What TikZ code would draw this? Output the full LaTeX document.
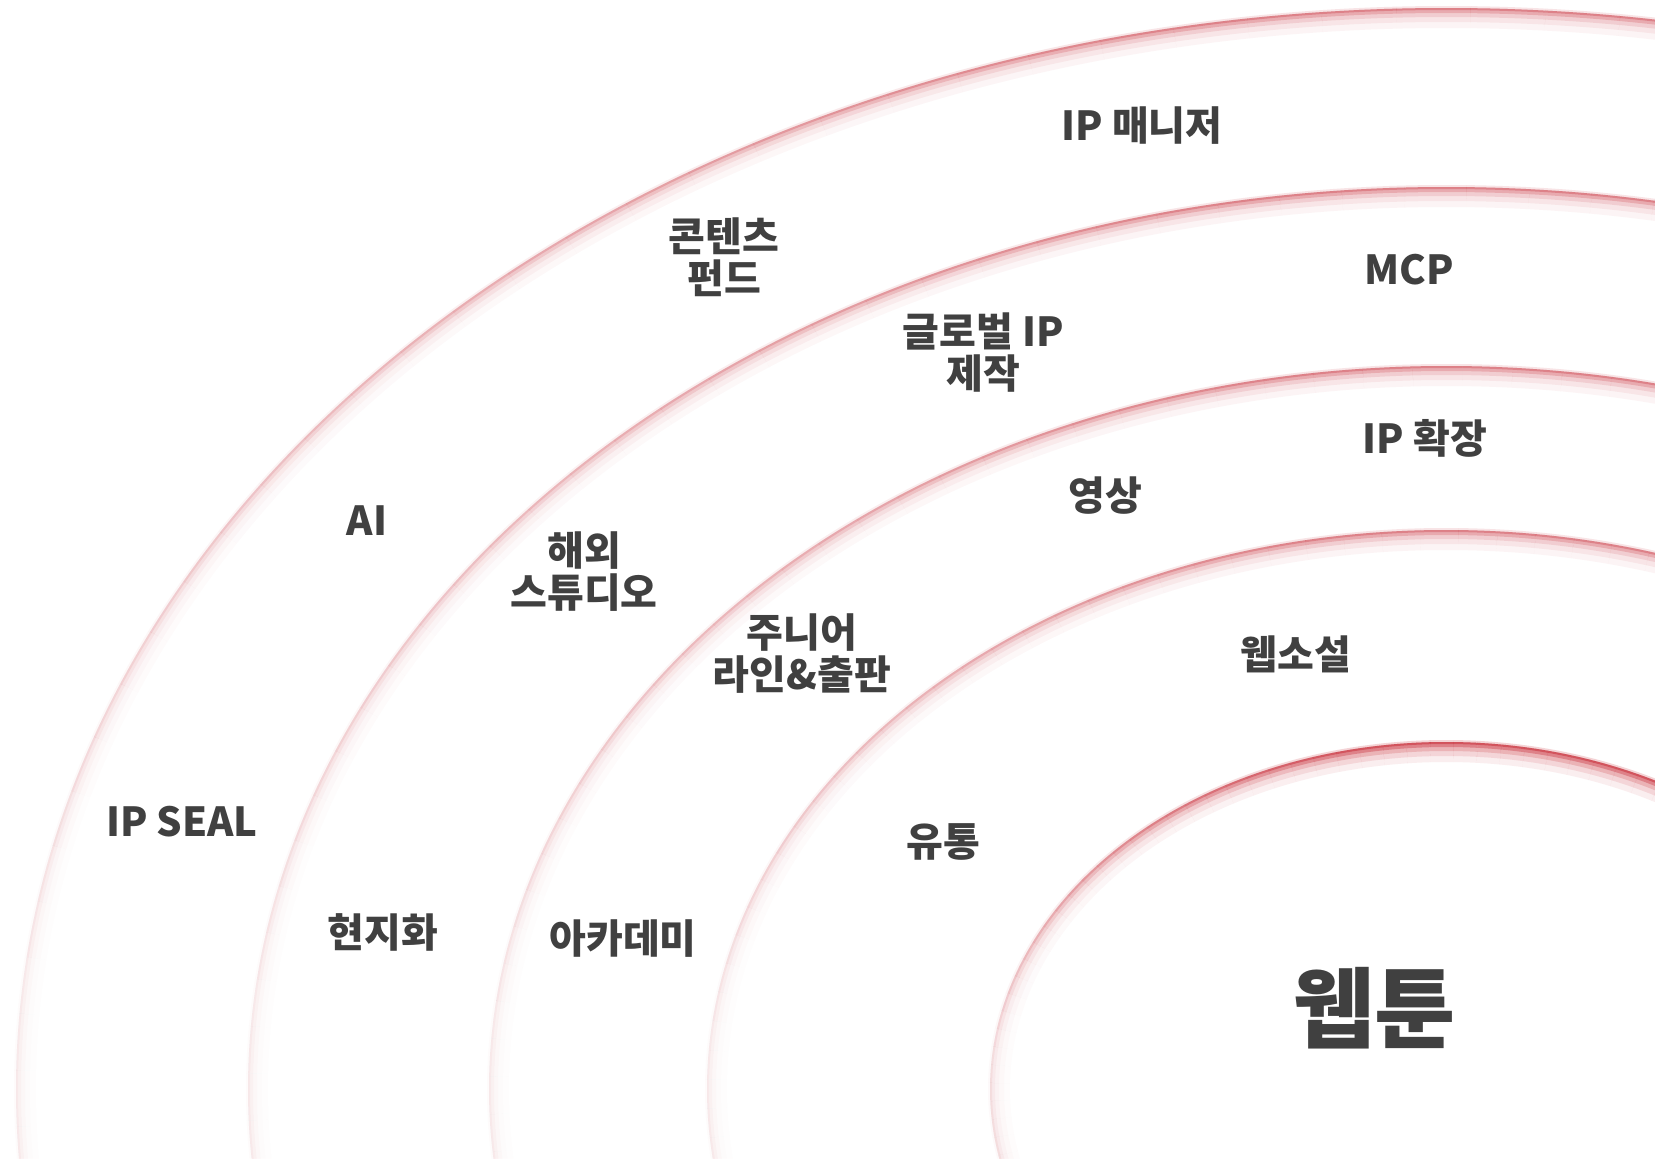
\documentclass[tikz,border=0pt]{standalone}
\usepackage{fontspec}
\setmainfont{Noto Sans CJK KR}
\usepackage{tikz}
\usepackage{xcolor}
\usetikzlibrary{positioning}
\definecolor{ringred}{RGB}{200,40,52}
\definecolor{txtgray}{RGB}{64,64,64}

\begin{document}
\begin{tikzpicture}[x=0.5pt,y=0.5pt,
    lbl/.style={text=txtgray,font=\fontsize{20}{21}\selectfont\bfseries,align=center,inner sep=0pt},
    big/.style={text=txtgray,font=\fontsize{44}{46}\selectfont\bfseries,inner sep=0pt}]
    \useasboundingbox (0,0) rectangle (1655,1158);
    \fill[white] (0,0) rectangle (1655,1158);
    \coordinate (c) at (1446,69);

    % glowing rings, fading toward the lower left
    \begin{scope}
        \clip (0,0) rectangle (1655,1158);
        \foreach \rx/\ry/\s in {456/347/1, 739/559/0.6, 957/723/0.6, 1198/902/0.6, 1430/1081/0.6}{
            \foreach \p in {20,23,...,197}{
                \pgfmathsetmacro\o{\s*(max(0.2,min(1,(190-\p)/90)))^1.3}
                \foreach \off/\wid/\alp in {-1/1/0.2, 1/1/0.5, 2.5/2.5/0.35, 4.5/4.5/0.2, 7/7/0.12, 10/10/0.08}{
                    \pgfmathsetmacro\oa{\o*\alp}
                    \draw[ringred,line width=\wid pt,opacity=\oa]
                        (c) ++(\p:{\rx-\off} and {\ry-\off})
                        arc[start angle=\p,end angle=\p+3,x radius=\rx-\off,y radius=\ry-\off];
                }
            }
        }
    \end{scope}

    \node[lbl] (ipman) at (1142,1032) {IP 매니저};
    \node[lbl] (fund) at (724,901) {콘텐츠\\펀드};
    \node[lbl] (mcp) at (1409,888) {MCP};
    \node[lbl] (glob) at (983,805) {글로벌 IP\\제작};
    \node[lbl] (ipext) at (1425,720) {IP 확장};
    \node[lbl] (video) at (1105,662) {영상};
    \node[lbl] (ai) at (367,637) {AI};
    \node[lbl] (studio) at (584,586) {해외\\스튜디오};
    \node[lbl] (junior) at (802,504) {주니어\\라인\&출판};
    \node[lbl] (novel) at (1296,504) {웹소설};
    \node[lbl] (seal) at (182,336) {IP SEAL};
    \node[lbl] (dist) at (943,316) {유통};
    \node[lbl] (local) at (383,226) {현지화};
    \node[lbl] (acad) at (623,219) {아카데미};
    \node[big] (webtoon) at (1374,150) {웹툰};
\end{tikzpicture}
\end{document}
